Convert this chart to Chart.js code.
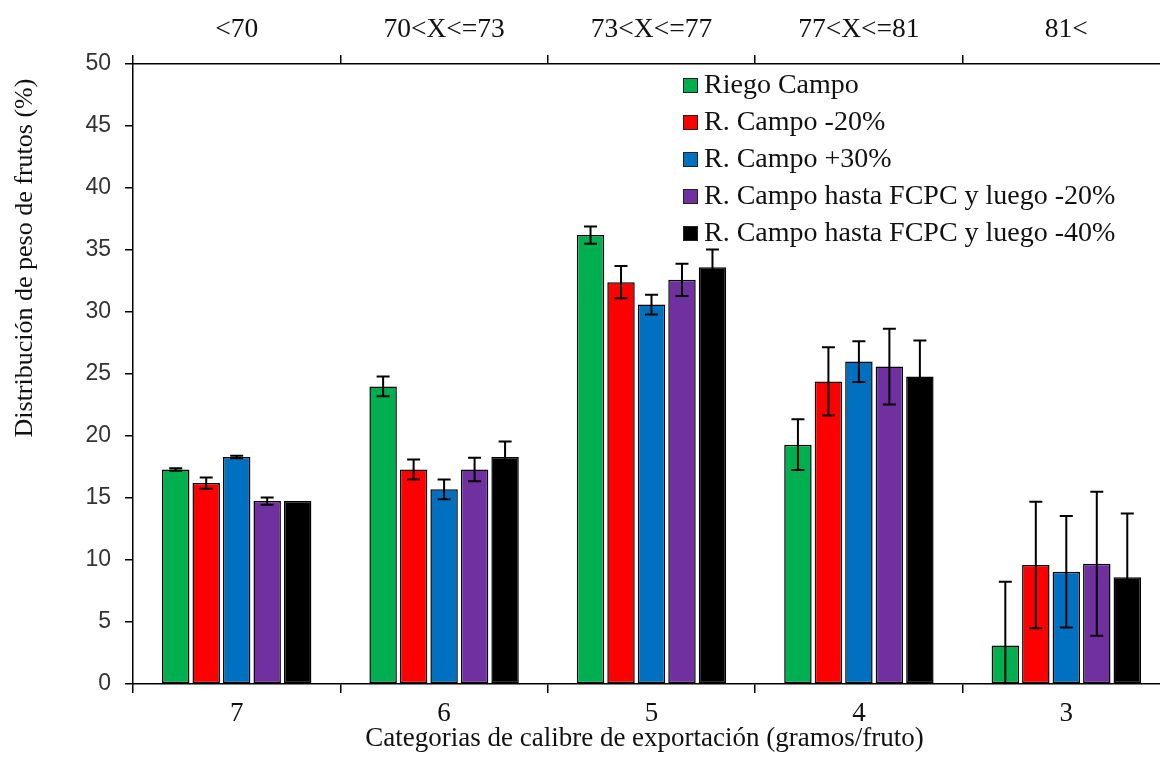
<!DOCTYPE html>
<html><head><meta charset="utf-8">
<script src="https://cdn.jsdelivr.net/npm/chart.js@4"></script>
<style>
html,body{margin:0;padding:0;background:#fff;overflow:hidden;width:1160px;height:765px}
#wrap{width:1172px;height:765px;position:relative}
</style></head>
<body><div id="wrap"><canvas id="c" width="1172" height="765"></canvas></div>
<script>
const categories = ['7', '6', '5', '4', '3'];
const rangeLabels = ['<70', '70<X<=73', '73<X<=77', '77<X<=81', '81<'];
const seriesNames = ['Riego Campo', 'R. Campo -20%', 'R. Campo +30%', 'R. Campo hasta FCPC y luego -20%', 'R. Campo hasta FCPC y luego -40%'];
const seriesColors = ['#00B050', '#FF0000', '#0070C0', '#7030A0', '#000000'];

const riegoCampo    = [17.3, 24.0, 36.2, 19.3, 3.1];
const riegoCampoErr = [0.1, 0.8, 0.7, 2.05, 5.15];
const menos20       = [16.2, 17.3, 32.4, 24.4, 9.6];
const menos20Err    = [0.45, 0.8, 1.3, 2.75, 5.1];
const mas30         = [18.3, 15.7, 30.6, 26.0, 9.05];
const mas30Err      = [0.1, 0.8, 0.8, 1.65, 4.5];
const fcpc20        = [14.75, 17.3, 32.6, 25.6, 9.7];
const fcpc20Err     = [0.3, 0.95, 1.3, 3.05, 5.8];
const fcpc40        = [14.75, 18.3, 33.6, 24.8, 8.6];
const fcpc40Err     = [0, 1.25, 1.45, 2.9, 5.15];

const yMin = 0, yMax = 50, yStep = 5;
const yTitle = 'Distribución de peso de frutos (%)';
const xTitle = 'Categorias de calibre de exportación (gramos/fruto)';

const values = [riegoCampo, menos20, mas30, fcpc20, fcpc40];
const errors = [riegoCampoErr, menos20Err, mas30Err, fcpc20Err, fcpc40Err];

const SERIF = "'Liberation Serif', 'Times New Roman', serif";
const SANS = "'Liberation Sans', Arial, sans-serif";

const datasets = values.map((v, i) => ({
  label: seriesNames[i],
  data: v,
  errors: errors[i],
  backgroundColor: seriesColors[i],
  borderColor: '#000',
  borderWidth: 1.5,
  borderSkipped: false,
  categoryPercentage: 0.735,
  barPercentage: 0.9,
  xAxisID: 'x'
}));

const errorBars = {
  id: 'errorBars',
  afterDatasetsDraw(chart) {
    const ctx = chart.ctx;
    const y = chart.scales.y;
    ctx.save();
    ctx.strokeStyle = '#000';
    ctx.lineWidth = 2;
    chart.data.datasets.forEach((ds, di) => {
      const meta = chart.getDatasetMeta(di);
      meta.data.forEach((bar, j) => {
        const e = ds.errors[j];
        if (!e) return;
        const v = ds.data[j];
        const top = y.getPixelForValue(v + e);
        const lowV = v - e;
        const bot = y.getPixelForValue(Math.max(lowV, yMin));
        const cap = 6.5;
        ctx.beginPath();
        ctx.moveTo(bar.x, top); ctx.lineTo(bar.x, bot);
        ctx.moveTo(bar.x - cap, top); ctx.lineTo(bar.x + cap, top);
        if (lowV > yMin) { ctx.moveTo(bar.x - cap, bot); ctx.lineTo(bar.x + cap, bot); }
        ctx.stroke();
      });
    });
    ctx.restore();
  }
};

const customLegend = {
  id: 'customLegend',
  afterDraw(chart) {
    const ctx = chart.ctx;
    ctx.save();
    ctx.font = '28px ' + SERIF;
    ctx.textBaseline = 'middle';
    ctx.textAlign = 'left';
    chart.data.datasets.forEach((ds, i) => {
      const cy = 85 + i * 37;
      ctx.fillStyle = ds.backgroundColor;
      ctx.fillRect(683, cy - 7, 15, 15);
      ctx.strokeStyle = '#222';
      ctx.lineWidth = 1;
      ctx.strokeRect(683.5, cy - 6.5, 14, 14);
      ctx.fillStyle = '#111';
      ctx.fillText(ds.label, 704, cy + 1);
    });
    ctx.restore();
  }
};

const axisTitles = {
  id: 'axisTitles',
  afterDraw(chart) {
    const ctx = chart.ctx;
    const a = chart.chartArea;
    ctx.save();
    ctx.fillStyle = '#111';
    ctx.textAlign = 'center';
    ctx.textBaseline = 'middle';
    ctx.font = '27px ' + SERIF;
    ctx.fillText(xTitle, (a.left + a.right) / 2 - 7, 739);
    ctx.font = '26px ' + SERIF;
    ctx.translate(25, a.top + (a.bottom - a.top) * 0.313);
    ctx.rotate(-Math.PI / 2);
    ctx.fillText(yTitle, 0, 0);
    ctx.restore();
  }
};

new Chart(document.getElementById('c'), {
  type: 'bar',
  data: { labels: categories, datasets },
  options: {
    responsive: false,
    animation: false,
    layout: { padding: { left: 0, right: 2, top: 0, bottom: 0 } },
    plugins: { legend: { display: false }, tooltip: { enabled: false } },
    scales: {
      x: {
        type: 'category',
        position: 'bottom',
        offset: true,
        grid: { offset: true, drawOnChartArea: false, drawTicks: true, tickLength: 9, color: '#000', lineWidth: 1.5 },
        border: { color: '#000', width: 1.5 },
        ticks: { color: '#111', font: { family: SERIF, size: 27 }, padding: 5, maxRotation: 0 },
        afterFit(s) { s.height = 81; }
      },
      x2: {
        type: 'category',
        position: 'top',
        labels: rangeLabels,
        offset: true,
        grid: { offset: true, drawOnChartArea: false, drawTicks: true, tickLength: 9, color: '#000', lineWidth: 1.5 },
        border: { color: '#000', width: 1.5 },
        ticks: { color: '#111', font: { family: SERIF, size: 27.5 }, padding: 9, maxRotation: 0 },
        afterFit(s) { s.height = 64; }
      },
      y: {
        min: yMin, max: yMax,
        ticks: { stepSize: yStep, color: '#333', font: { family: SANS, size: 23 }, padding: 14 },
        grid: { drawOnChartArea: false, drawTicks: true, tickLength: 8, color: '#000', lineWidth: 1.5 },
        border: { color: '#000', width: 1.5 },
        afterFit(s) { s.width = 133; }
      }
    }
  },
  plugins: [errorBars, customLegend, axisTitles]
});
</script>
</body></html>
